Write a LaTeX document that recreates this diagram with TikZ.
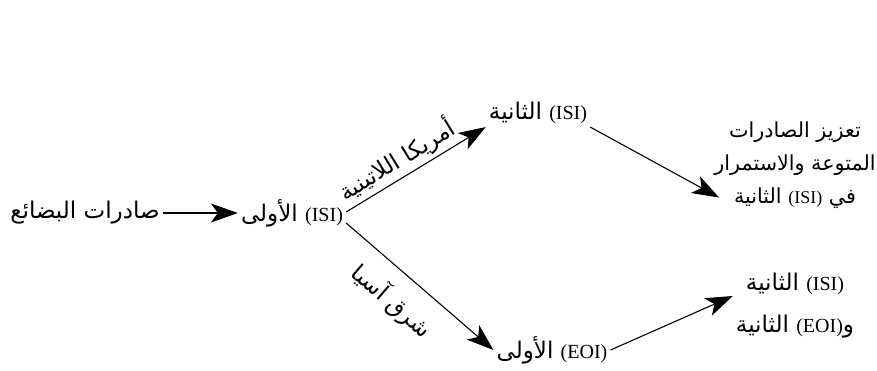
\documentclass[tikz,border=0pt]{standalone}
\usepackage{fontspec}
\setmainfont{Liberation Serif}
\newfontfamily\arabicfont[Script=Arabic,Scale=1.15]{DejaVu Sans}
\TeXXeTstate=1
\usetikzlibrary{arrows.meta}
\newcommand{\artxt}[1]{{\arabicfont\beginR #1\endR}}
\newcommand{\lat}[1]{{\rmfamily\beginL #1\endL}}

\begin{document}
\begin{tikzpicture}[x=1pt, y=-1pt,
    font=\fontsize{20}{24}\selectfont,
    stage/.style={inner sep=3pt},
    flow/.style={line width=1.1pt, -{Stealth[length=27pt, width=19pt, inset=7pt]}}]
    \useasboundingbox (0,0) rectangle (877,370);

    \node[stage] (goods) at (85,213) {\artxt{صادرات البضائع}};
    \node[stage] (isiA) at (292,213) {\artxt{\lat{(ISI)} الأولى}};
    \node[stage] (isiB) at (538,113) {\artxt{\lat{(ISI)} الثانية}};
    \node[stage] (eoiA) at (552,350) {\artxt{\lat{(EOI)} الأولى}};
    \node[stage, align=center, font=\fontsize{18}{33}\selectfont] (promo) at (795,165)
        {\artxt{تعزيز الصادرات}\\ \artxt{المتوعة والاستمرار}\\ \artxt{في \lat{(ISI)} الثانية}};
    \node[stage, align=center, font=\fontsize{20}{42}\selectfont] (mix) at (795,306)
        {\artxt{\lat{(ISI)} الثانية}\\ \artxt{و\lat{(EOI)} الثانية}};

    \draw[flow] (goods.east) -- (isiA.west);
    \draw[flow] ([yshift=1pt]isiA.east) -- (isiB.south west)
        node[pos=0.43, sloped, above=0pt] {\artxt{أمريكا اللاتينية}};
    \draw[flow] ([yshift=-10pt]isiA.east) -- (eoiA.west)
        node[pos=0.44, sloped, below=12pt] {\artxt{شرق آسيا}};
    \draw[flow] (isiB.south east) -- ([xshift=8pt, yshift=14pt]promo.south west);
    \draw[flow] (eoiA.east) -- ([yshift=10pt]mix.west);
\end{tikzpicture}
\end{document}
